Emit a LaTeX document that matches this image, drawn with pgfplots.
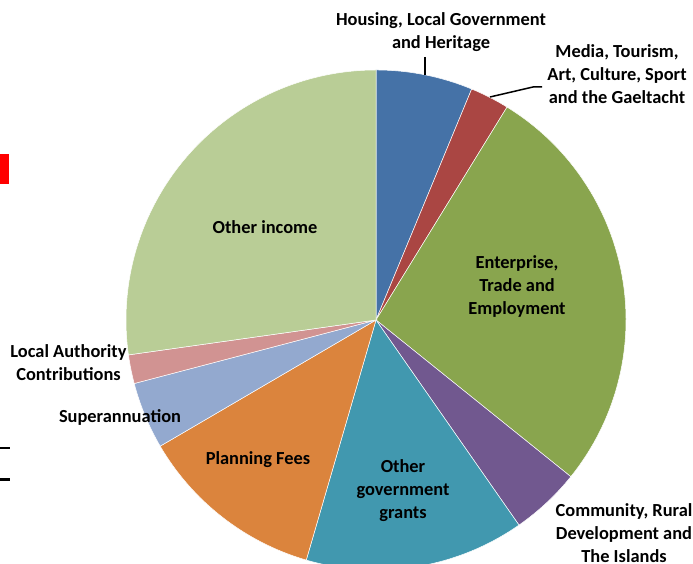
\documentclass[border=0pt]{standalone}
\usepackage{pgfplots}
\pgfplotsset{compat=1.18}
\usepackage{fontspec}
\setmainfont{Carlito}
\definecolor{c1}{HTML}{4572A7}
\definecolor{c2}{HTML}{AA4643}
\definecolor{c3}{HTML}{89A54E}
\definecolor{c4}{HTML}{71588F}
\definecolor{c5}{HTML}{4198AF}
\definecolor{c6}{HTML}{DB843D}
\definecolor{c7}{HTML}{93A9CF}
\definecolor{c8}{HTML}{D19392}
\definecolor{c9}{HTML}{B9CD96}
\begin{document}
\begin{tikzpicture}[x=1bp,y=1bp,
  lab/.style={font=\fontsize{18.4bp}{23bp}\selectfont\bfseries, align=center, inner sep=0pt, text=black}]
\useasboundingbox (0,0) rectangle (693,564);
\clip (0,0) rectangle (693,564);
\begin{axis}[at={(0,0)}, anchor=south west, width=693bp, height=564bp,
  scale only axis, xmin=0, xmax=693, ymin=0, ymax=564, y dir=reverse,
  hide axis, clip=false]
  \coordinate (C) at (axis cs:376,320);
  \coordinate (L1) at (axis cs:441,32);
  \coordinate (L2) at (axis cs:617,74);
  \coordinate (L3) at (axis cs:517,287);
  \coordinate (L4) at (axis cs:624,533);
  \coordinate (L5) at (axis cs:403,491);
  \coordinate (L6) at (axis cs:258,460);
  \coordinate (L7) at (axis cs:120,417);
  \coordinate (L8) at (axis cs:68.5,363);
  \coordinate (L9) at (axis cs:265,227);
  \coordinate (A1) at (axis cs:425,57);
  \coordinate (A2) at (axis cs:425,75);
  \coordinate (B1) at (axis cs:542,87);
  \coordinate (B2) at (axis cs:533,87);
  \coordinate (B3) at (axis cs:490,97);
  \fill[red] (axis cs:0,154) rectangle (axis cs:9,184);
  \draw[black, line width=2.3bp] (axis cs:0,448) -- (axis cs:10,448);
  \draw[black, line width=2.3bp] (axis cs:0,479.5) -- (axis cs:10,479.5);
\end{axis}
% pie slices: shares in percent, clockwise from 12 o'clock
\def\startA{90}
\foreach \v/\c in {6.25/c1, 2.53/c2, 27.00/c3, 4.53/c4, 14.19/c5, 12.08/c6, 4.33/c7, 1.86/c8, 27.23/c9}{
  \pgfmathsetmacro\endA{\startA-3.6*\v}
  \fill[\c, draw=white, line width=0.5bp] (C) -- ++(\startA:250bp) arc[start angle=\startA, end angle=\endA, radius=250bp] -- cycle;
  \global\let\startA\endA
}
\draw[black, line width=1.5bp] (A1) -- (A2);
\draw[black, line width=1.5bp] (B1) -- (B2) -- (B3);
\node[lab] at (L1) {Housing, Local Government\\and Heritage};
\node[lab] at (L2) {Media, Tourism,\\Art, Culture, Sport\\and the Gaeltacht};
\node[lab] at (L3) {Enterprise,\\Trade and\\Employment};
\node[lab] at (L4) {Community, Rural\\Development and\\The Islands};
\node[lab] at (L5) {Other\\government\\grants};
\node[lab] at (L6) {Planning Fees};
\node[lab] at (L7) {Superannuation};
\node[lab] at (L8) {Local Authority\\Contributions};
\node[lab] at (L9) {Other income};
\end{tikzpicture}
\end{document}
